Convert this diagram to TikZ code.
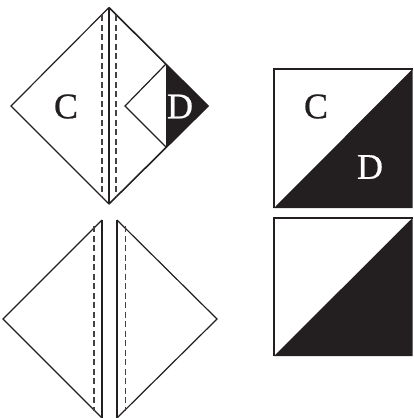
\documentclass[tikz,border=0pt]{standalone}
\usepackage{fontspec}
\setmainfont[FakeBold=0.6]{Liberation Serif}
\definecolor{ink}{HTML}{231F20}
\tikzset{
  outline/.style={draw=ink,line width=1.2pt,line join=miter},
  dashline/.style={draw=ink!85,line width=1.2pt,dash pattern=on 6pt off 3.5pt},
  heavy/.style={draw=ink,line width=2.8pt},
  lab/.style={font=\fontsize{36}{36}\selectfont,inner sep=0pt,text=ink},
  labw/.style={font=\fontsize{36}{36}\selectfont,inner sep=0pt,text=white}
}
\begin{document}
\begin{tikzpicture}[x=1pt,y=-1pt]
\useasboundingbox (0,0) rectangle (413,418);
% top diamond
\coordinate (tt) at (109,7.5);
\coordinate (tl) at (11,106);
\coordinate (tb) at (109,204);
\coordinate (tr) at (208,106);
\coordinate (nu) at (166,64);
\coordinate (nd) at (166,147);
\coordinate (nc) at (125,106);
\fill[ink] (nu) -- (tr) -- (nd) -- cycle;
\draw[outline] (tt) -- (tl) -- (tb);
\draw[outline,line width=1.6pt] (tt) -- (tr) -- (tb);
\draw[outline] (tb) -- (tt);
\draw[outline] (nu) -- (nc) -- (nd);
\draw[dashline] (102,15) -- (102,197);
\draw[dashline] (116,15) -- (116,197);
\node[lab] (c1) at (66,106.5) {C};
\node[labw] (d1) at (180,106.5) {D};
% bottom diamonds
\coordinate (lt) at (102,220);
\coordinate (ll) at (3,319);
\coordinate (lb) at (102,418);
\coordinate (rt) at (117,220);
\coordinate (rr) at (217,319);
\coordinate (rb) at (117,418);
\begin{scope}
\clip (0,0) rectangle (413,418);
\draw[outline] (lt) -- (ll) -- (lb);
\draw[outline] (rt) -- (rr) -- (rb);
\draw[heavy] (lt) -- (lb);
\draw[heavy] (rt) -- (rb);
\draw[dashline] (94,226) -- (94,411);
\draw[dashline] (125.5,226) -- (125.5,411);
\end{scope}
% squares
\coordinate (a1) at (274,69);
\coordinate (a2) at (412.5,69);
\coordinate (a3) at (412.5,208);
\coordinate (a4) at (274,208);
\coordinate (b1) at (274,218);
\coordinate (b2) at (412.5,218);
\coordinate (b3) at (412.5,356);
\coordinate (b4) at (274,356);
\fill[ink] (a2) -- (a3) -- (a4) -- cycle;
\draw[outline] (a4) -- (a1) -- (a2);
\fill[ink] (b2) -- (b3) -- (b4) -- cycle;
\draw[outline] (b4) -- (b1) -- (b2);
\node[lab] (c2) at (316,106.5) {C};
\node[labw] (d2) at (370,167) {D};
\end{tikzpicture}
\end{document}
